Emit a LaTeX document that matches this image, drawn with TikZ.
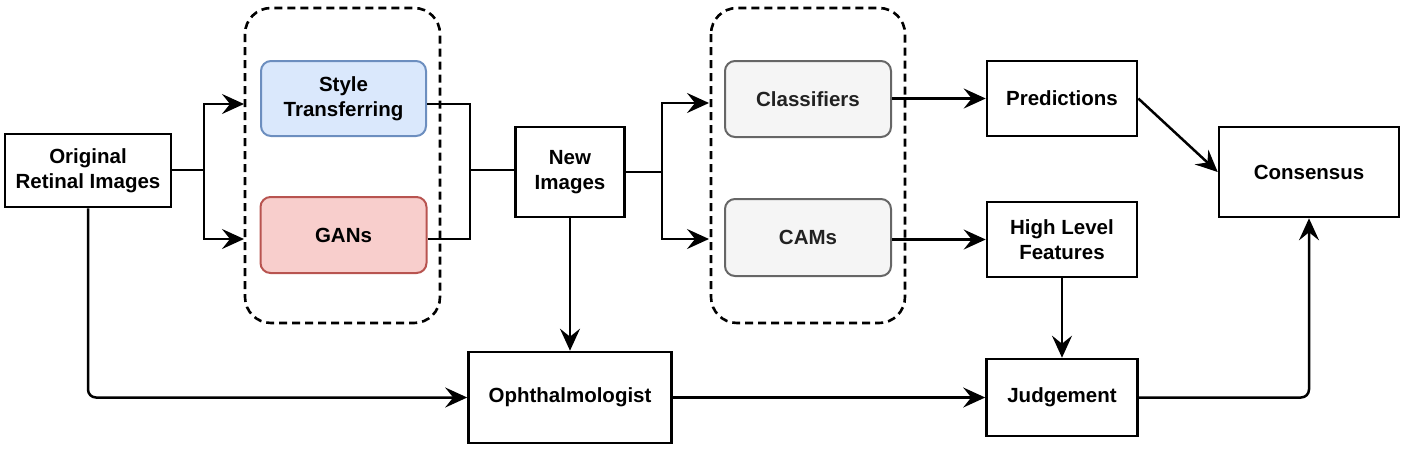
\documentclass[tikz,border=0pt]{standalone}
\usepackage{fontspec}
\setmainfont{Liberation Sans}
\usetikzlibrary{arrows.meta}
\definecolor{bluefill}{HTML}{DAE8FC}
\definecolor{blueline}{HTML}{6C8EBF}
\definecolor{redfill}{HTML}{F8CECC}
\definecolor{redline}{HTML}{B85450}
\definecolor{grayfill}{HTML}{F5F5F5}
\definecolor{grayline}{HTML}{666666}
\definecolor{graytext}{HTML}{222222}
\tikzset{
  x=1pt, y=-1pt,
  box/.style={draw=black, line width=2.6pt, fill=white, align=center, inner sep=0pt,
    font=\fontsize{20.5}{24.5}\selectfont\bfseries},
  rbox/.style={box, rounded corners=10pt, line width=2pt},
  grp/.style={draw=black, line width=2.6pt, dash pattern=on 8pt off 5pt, rounded corners=26pt},
  conn/.style={draw=black, line width=2.5pt},
  tip/.tip={Stealth[length=22pt, width=20pt, inset=8pt]},
  arr/.style={conn, -tip},
}
\begin{document}
\begin{tikzpicture}
\useasboundingbox (0,0) rectangle (1407,453);

% groups
\draw[grp] (245,8) rectangle (440,323);
\draw[grp] (711,8) rectangle (905,323);

% nodes
\node[box, minimum width=166pt, minimum height=73pt] (orig) at (88,170.5) {Original\\Retinal Images};
\node[rbox, fill=bluefill, draw=blueline, minimum width=165pt, minimum height=75pt] (style) at (343.5,98.5) {Style\\Transferring};
\node[rbox, fill=redfill, draw=redline, minimum width=166pt, minimum height=76pt] (gans) at (343.5,235) {GANs};
\node[box, minimum width=109pt, minimum height=90pt] (newimg) at (570,172) {New\\Images};
\node[rbox, fill=grayfill, draw=grayline, text=graytext, minimum width=166pt, minimum height=76pt] (clf) at (808,99) {Classifiers};
\node[rbox, fill=grayfill, draw=grayline, text=graytext, minimum width=166pt, minimum height=77pt] (cams) at (808,237.5) {CAMs};
\node[box, minimum width=150pt, minimum height=75pt] (pred) at (1062,98.5) {Predictions};
\node[box, minimum width=150pt, minimum height=75pt] (hlf) at (1062,239.5) {High Level\\Features};
\node[box, minimum width=180pt, minimum height=90pt] (cons) at (1309,172) {Consensus};
\node[box, minimum width=203pt, minimum height=91pt] (oph) at (570,397.5) {Ophthalmologist};
\node[box, minimum width=151pt, minimum height=77pt] (judg) at (1062,397.5) {Judgement};

% helper coordinates
\coordinate (s1) at (204,170);
\coordinate (a1) at (244,104);
\coordinate (a2) at (244,239);
\coordinate (m1) at (470,170);
\coordinate (s2) at (662,172);
\coordinate (b1) at (709,103);
\coordinate (b2) at (709,239);

% connectors
\draw[conn] (orig.east|-s1) -- (s1);
\draw[arr] (s1) |- (a1);
\draw[arr] (s1) |- (a2);
\draw[conn] (style.east|-a1) -| (m1);
\draw[conn] (gans.east|-a2) -| (m1);
\draw[conn] (m1) -- (newimg.west|-m1);
\draw[conn] (newimg.east|-s2) -- (s2);
\draw[arr] (s2) |- (b1);
\draw[arr] (s2) |- (b2);
\draw[arr] (clf.east|-pred.west) -- (pred.west);
\draw[arr] (cams.east|-hlf.west) -- (hlf.west);
\draw[arr] (pred.east) -- (cons.west);
\draw[arr, rounded corners=8pt] (orig.south) |- (oph.west);
\draw[arr] (newimg.south) -- (oph.north);
\draw[arr] (oph.east) -- (judg.west);
\draw[arr] (hlf.south) -- (judg.north);
\draw[arr, rounded corners=8pt] (judg.east) -| (cons.south);
\end{tikzpicture}
\end{document}
